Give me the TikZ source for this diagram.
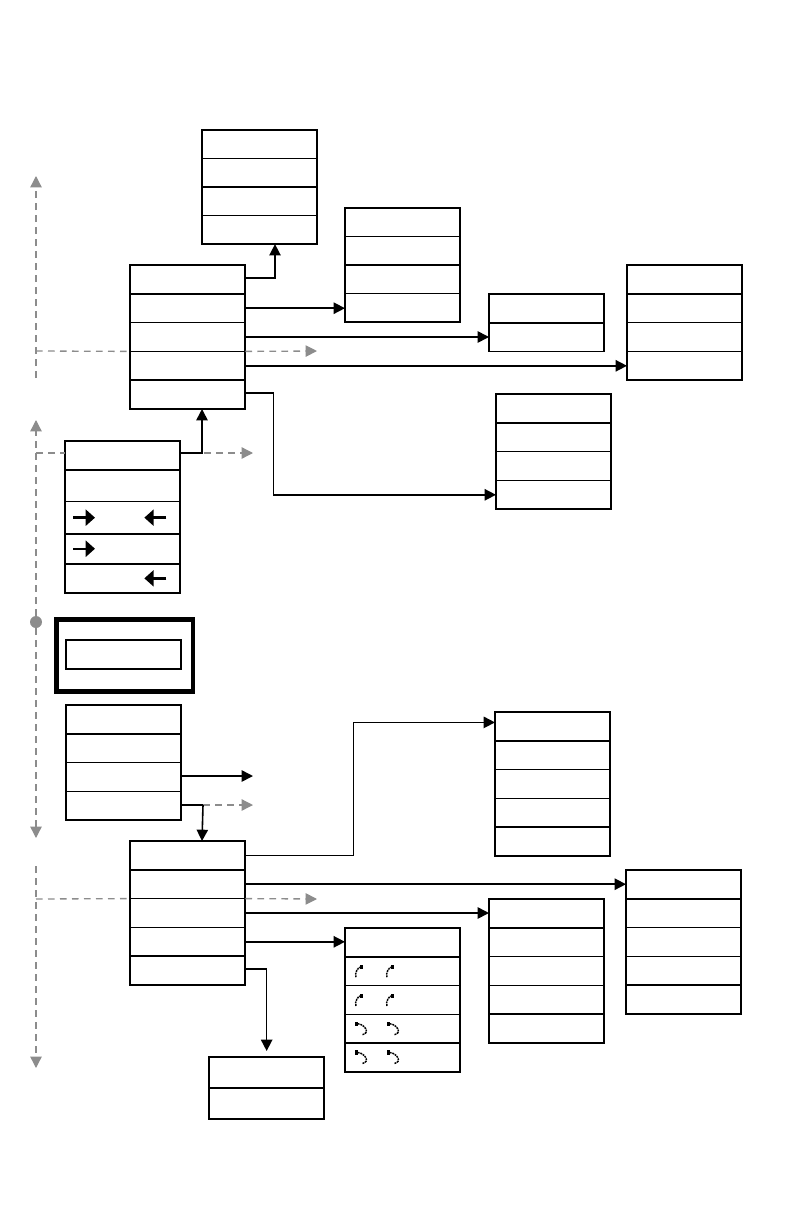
\documentclass[tikz,border=0pt]{standalone}
\usepackage{tikz}
\usepackage{xcolor}
\usetikzlibrary{arrows.meta,positioning}
\definecolor{ink}    {HTML}{000000}
\definecolor{axis}   {HTML}{8C8C8C}
\tikzset{
  cell/.style    ={draw=ink, fill=white, line width=1.3pt,
                   minimum width=86.5pt, minimum height=21.6pt,
                   inner sep=0pt, outer sep=0pt},
  frame/.style   ={draw=ink, fill=white, line width=3.5pt,
                   minimum width=102.3pt, minimum height=54pt,
                   inner sep=0pt, outer sep=0pt},
  arr/.style     ={-{Triangle[length=8.5pt,width=8.5pt]}, line width=1.2pt, color=ink},
  wire/.style    ={line width=1.2pt, color=ink},
  axisarr/.style ={-{Triangle[length=8.5pt,width=8.5pt]}, line width=1pt,
                   color=axis, dash pattern=on 5pt off 4pt},
  axisline/.style={line width=1pt, color=axis, dash pattern=on 5pt off 4pt},
  dot/.style     ={circle, fill=axis, minimum size=9pt, inner sep=0pt},
  walk/.style    ={-{Triangle[length=7pt,width=12pt]}, line width=1.8pt, color=ink},
  hook/.style    ={-{Square[length=2.6pt,width=3.2pt]}, line width=1.1pt, color=ink,
                   dash pattern=on 1.4pt off 0.6pt},
  hookb/.style   ={{Square[length=2.6pt,width=3.2pt]}-, line width=1.1pt, color=ink,
                   dash pattern=on 1.4pt off 0.6pt},
}
\begin{document}
\begin{tikzpicture}[x=0.75pt,y=-0.75pt]
  \useasboundingbox (0,0) rectangle (792,1224);

  % free ends
  \coordinate (upbase)   at (36,378);
  \coordinate (uptip)    at (36,176);
  \coordinate (upjoin)   at (36,351);
  \coordinate (uptipb)   at (36,420);
  \coordinate (upjoinb)  at (36,453);
  \coordinate (downtip)  at (36,838);
  \coordinate (lowbase)  at (36,866);
  \coordinate (lowtip)   at (36,1068);
  \coordinate (lowjoin)  at (36,899);
  \coordinate (hubend)   at (317,351);
  \coordinate (leftstart) at (180,453);
  \coordinate (leftend)  at (253,453);
  \coordinate (inend)    at (253,776);
  \coordinate (instart)  at (181,776);
  \coordinate (ingrey)   at (253,805);
  \coordinate (inknee)   at (203,805);
  \coordinate (lowend)   at (317,899);

  % upper stacks
  \node[cell,anchor=north west,minimum height=21.4pt] (top1) at (202,130) {};
  \node[cell,below=0pt of top1,minimum height=21.4pt] (top2) {};
  \node[cell,below=0pt of top2,minimum height=21.4pt] (top3) {};
  \node[cell,below=0pt of top3,minimum height=21.4pt] (top4) {};

  \node[cell,anchor=north west,minimum height=21.4pt] (mid1) at (345,208) {};
  \node[cell,below=0pt of mid1,minimum height=21.4pt] (mid2) {};
  \node[cell,below=0pt of mid2,minimum height=21.4pt] (mid3) {};
  \node[cell,below=0pt of mid3,minimum height=21.4pt] (mid4) {};

  \node[cell,anchor=north west] (hub1) at (130,265) {};
  \node[cell,below=0pt of hub1] (hub2) {};
  \node[cell,below=0pt of hub2] (hub3) {};
  \node[cell,below=0pt of hub3] (hub4) {};
  \node[cell,below=0pt of hub4] (hub5) {};

  \node[cell,anchor=north west] (pair1) at (489,294) {};
  \node[cell,below=0pt of pair1] (pair2) {};

  \node[cell,anchor=north west] (far1) at (627,265) {};
  \node[cell,below=0pt of far1] (far2) {};
  \node[cell,below=0pt of far2] (far3) {};
  \node[cell,below=0pt of far3] (far4) {};

  \node[cell,anchor=north west] (side1) at (496,394) {};
  \node[cell,below=0pt of side1] (side2) {};
  \node[cell,below=0pt of side2] (side3) {};
  \node[cell,below=0pt of side3] (side4) {};

  % steps stack, rows are uneven
  \node[cell,anchor=north west,minimum height=21.8pt] (walk1) at (65,441) {};
  \node[cell,below=0pt of walk1,minimum height=23.6pt] (walk2) {};
  \node[cell,below=0pt of walk2,minimum height=24.2pt] (walk3) {};
  \node[cell,below=0pt of walk3,minimum height=22.4pt] (walk4) {};
  \node[cell,below=0pt of walk4,minimum height=22pt] (walk5) {};

  % framed box
  \node[frame,anchor=north west] (frame) at (56.5,619.5) {};
  \node[cell,minimum height=21.8pt,anchor=north west] (inner) at (66,640) {};

  % lower stacks
  \node[cell,anchor=north west] (in1) at (66,705) {};
  \node[cell,below=0pt of in1] (in2) {};
  \node[cell,below=0pt of in2] (in3) {};
  \node[cell,below=0pt of in3] (in4) {};

  \node[cell,anchor=north west] (rise1) at (495,712) {};
  \node[cell,below=0pt of rise1] (rise2) {};
  \node[cell,below=0pt of rise2] (rise3) {};
  \node[cell,below=0pt of rise3] (rise4) {};
  \node[cell,below=0pt of rise4] (rise5) {};

  \node[cell,anchor=north west] (low1) at (130,841) {};
  \node[cell,below=0pt of low1] (low2) {};
  \node[cell,below=0pt of low2] (low3) {};
  \node[cell,below=0pt of low3] (low4) {};
  \node[cell,below=0pt of low4] (low5) {};

  \node[cell,anchor=north west] (end1) at (626,870) {};
  \node[cell,below=0pt of end1] (end2) {};
  \node[cell,below=0pt of end2] (end3) {};
  \node[cell,below=0pt of end3] (end4) {};
  \node[cell,below=0pt of end4] (end5) {};

  \node[cell,anchor=north west] (next1) at (489,899) {};
  \node[cell,below=0pt of next1] (next2) {};
  \node[cell,below=0pt of next2] (next3) {};
  \node[cell,below=0pt of next3] (next4) {};
  \node[cell,below=0pt of next4] (next5) {};

  \node[cell,anchor=north west] (turn1) at (345,928) {};
  \node[cell,below=0pt of turn1] (turn2) {};
  \node[cell,below=0pt of turn2] (turn3) {};
  \node[cell,below=0pt of turn3] (turn4) {};
  \node[cell,below=0pt of turn4] (turn5) {};

  \node[cell,anchor=north west,minimum height=23.3pt] (foot1) at (209,1057) {};
  \node[cell,below=0pt of foot1,minimum height=23.3pt] (foot2) {};

  % grey axis
  \node[dot] (mark) at (36,622) {};
  \draw[axisarr] (upbase) -- (uptip);
  \draw[axisline] (upjoin) -- (hub3.south west);
  \draw[axisarr] (hub3.south east) -- (hubend);
  \draw[axisarr] (mark) -- (uptipb);
  \draw[axisline] (upjoinb) -- (upjoinb -| walk1.west);
  \draw[axisarr] (leftstart) -- (leftend);
  \draw[axisarr] (mark) -- (downtip);
  \draw[axisarr] (inknee) -- (ingrey);
  \draw[axisarr] (lowbase) -- (lowtip);
  \draw[axisline] (lowjoin) -- (low2.south west);
  \draw[axisarr] (low2.south east) -- (lowend);

  % black connectors
  \draw[arr] ([yshift=1pt]hub1.east) -| (top4.south -| 275,0);
  \draw[arr] (hub2.east) -- (hub2.east -| mid4.west);
  \draw[arr] (hub3.east) -- (hub3.east -| pair2.west);
  \draw[arr] (hub4.east) -- (hub4.east -| far4.west);
  \draw[arr] ([yshift=1pt]hub5.east) -- ++(28,0) |- (side4.west);
  \draw[arr] (leftstart) -| (hub5.south -| 202,0);
  \draw[arr] (instart) -- (inend);
  \draw[wire] (inknee -| in4.east) -- (inknee);
  \draw[arr] (inknee) -- (low1.north -| 202,0);
  \draw[arr] (low1.east) -- ++(108,0) |- ([yshift=3pt]rise1.west);
  \draw[arr] (low2.east) -- (low2.east -| end1.west);
  \draw[arr] (low3.east) -- (low3.east -| next1.west);
  \draw[arr] (low4.east) -- (low4.east -| turn1.west);
  \draw[arr] ([yshift=1pt]low5.east) -| ([yshift=4.5pt]foot1.north);

  % small marks in the steps stack
  \draw[walk] (walk3.west) ++(8,0) -- ++(22,0);
  \draw[walk] (walk3.east) ++(-14,0) -- ++(-22,0);
  \draw[walk] (walk4.west) ++(8,0) -- ++(22,0);
  \draw[walk] (walk5.east) ++(-14,0) -- ++(-22,0);

  % small marks in the turn stack
  \draw[hook] (turn2.west) ++(11,6) to[out=110,in=180] ++(7,-10);
  \draw[hook] (turn2.west) ++(42,6) to[out=110,in=180] ++(7,-10);
  \draw[hook] (turn3.west) ++(11,6) to[out=110,in=180] ++(7,-10);
  \draw[hook] (turn3.west) ++(42,6) to[out=110,in=180] ++(7,-10);
  \draw[hookb] (turn4.west) ++(10,-5) to[out=0,in=10,looseness=1.8] ++(7,11);
  \draw[hookb] (turn4.west) ++(42,-5) to[out=0,in=10,looseness=1.8] ++(7,11);
  \draw[hookb] (turn5.west) ++(10,-5) to[out=0,in=10,looseness=1.8] ++(7,11);
  \draw[hookb] (turn5.west) ++(42,-5) to[out=0,in=10,looseness=1.8] ++(7,11);
\end{tikzpicture}
\end{document}
